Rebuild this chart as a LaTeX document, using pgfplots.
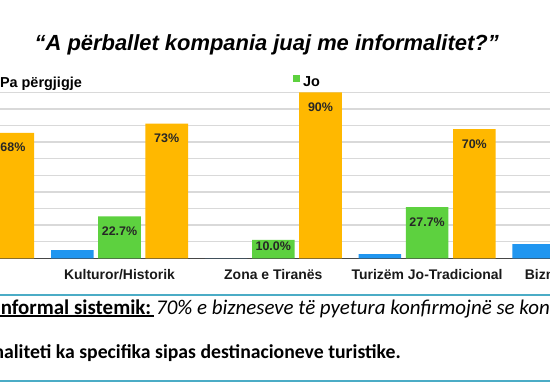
\documentclass[border=0pt]{standalone}
\usepackage{pgfplots}
\pgfplotsset{compat=1.18}
\usepackage{fontspec}
\setmainfont{Liberation Sans}
\newfontfamily\calibri{Carlito}
\definecolor{cblue}{RGB}{32,150,240}
\definecolor{cgreen}{RGB}{93,209,63}
\definecolor{corange}{RGB}{255,184,0}
\definecolor{tealline}{RGB}{75,172,198}
\definecolor{gridgray}{RGB}{217,217,217}
\definecolor{axisgray}{RGB}{70,70,70}
\pgfplotsset{ybar legend/.style={/pgfplots/legend image code/.code={\fill[##1,draw=none] (0bp,0.8bp) rectangle (7bp,7.8bp);}}}
\newcommand\thickul[1]{\setbox0\hbox{#1}\rlap{\rule[-2.8bp]{\wd0}{1.4bp}}\box0}
\begin{document}
\begin{tikzpicture}[x=1bp,y=1bp]
\useasboundingbox (0,0) rectangle (550,390);
\fill[white] (0,0) rectangle (550,390);
\clip (0,0) rectangle (550,390);
\begin{axis}[
  at={(-111.2bp,131.7bp)}, anchor=south west,
  scale only axis, width=769bp, height=166bp,
  xmin=-0.5, xmax=4.5, ymin=0, ymax=90,
  ybar=4.6bp, bar width=42.6bp,
  axis x line*=bottom, axis y line*=left,
  x axis line style={-, draw=axisgray, line width=1.6bp},
  y axis line style={draw=none},
  major tick length=0pt,
  xtick={0,1,2,3,4},
  xticklabels={,Kulturor/Historik,Zona e Tiranës,Turizëm Jo-Tradicional,\makebox[112bp][l]{Biznes}},
  xticklabel style={font=\bfseries\fontsize{14}{16}\selectfont, anchor=base, yshift=-21.2bp, text=black!90},
  ytick={0,9,...,90}, yticklabels={},
  ymajorgrids, grid style={draw=gridgray, line width=1.3bp},
  visualization depends on={y \as \rawy},
  nodes near coords style={font=\bfseries\fontsize{12.5}{15}\selectfont, anchor=base, yshift={ifthenelse(\rawy<15,-10.5,-19)}, text=black!85},
  legend columns=-1,
  legend style={draw=none, fill=none, inner sep=0pt, outer sep=0pt,
    at={(axis description cs:0.1316,1.064)}, anchor=west,
    font=\bfseries\fontsize{14.5}{16}\selectfont, nodes={inner sep=0pt}, column sep=0pt},
]
\addplot[fill=cblue, draw=none] coordinates {(1,4.5) (2,0) (3,2.3) (4,7.7)};
\addlegendentry{\makebox[296bp][l]{\hspace{3bp}Pa përgjigje}}
\addplot[fill=cgreen, draw=none, nodes near coords, point meta=explicit symbolic] coordinates {(1,22.7) [22.7\%] (2,10.0) [10.0\%] (3,27.7) [27.7\%]};
\addlegendentry{\makebox[296bp][l]{\hspace{3bp}Jo}}
\addplot[fill=corange, draw=none, nodes near coords, point meta=explicit symbolic] coordinates {(0,68) [68\%] (1,73) [73\%] (2,90) [90\%] (3,70) [70\%]};
\addlegendentry{\makebox[296bp][l]{\hspace{3bp}Po}}
\end{axis}
\node[font=\bfseries\itshape\fontsize{22}{26}\selectfont, anchor=base] at (266.7,340) {“A përballet kompania juaj me informalitet?”};
\draw[tealline, line width=2.5bp] (0,95) -- (550,95);
\draw[tealline, line width=2.5bp] (0,9) -- (550,9);
\node[font=\calibri\fontsize{21}{24}\selectfont, anchor=base west, inner sep=0pt] at (-5,76) {\thickul{\bfseries Informal sistemik:\hspace{3bp}}\hspace{2bp}\itshape 70\% e bizneseve të pyetura konfirmojnë se konkurrenca};
\node[font=\calibri\bfseries\fontsize{19.8}{22}\selectfont, anchor=base west, inner sep=0pt] at (-51.5,32) {Informaliteti ka specifika sipas destinacioneve turistike.};
\end{tikzpicture}
\end{document}
